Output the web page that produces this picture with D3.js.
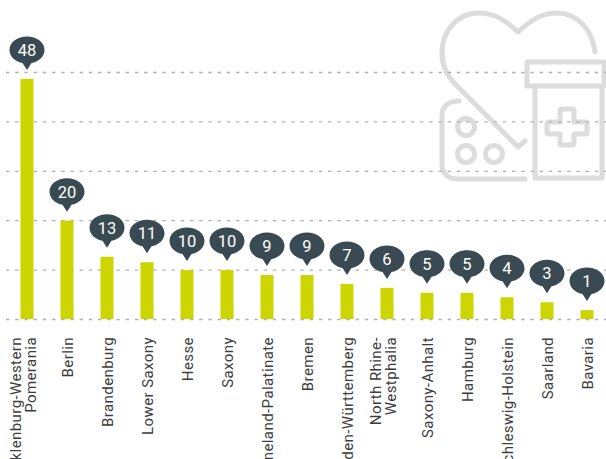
<!DOCTYPE html>
<html>
<head>
<meta charset="utf-8">
<script src="https://d3js.org/d3.v7.min.js"></script>
<style>
  html, body { margin: 0; padding: 0; background: #fff; overflow: hidden; }
  text { font-family: Roboto, sans-serif; }
</style>
</head>
<body>
<div id="chart"></div>
<script>
// state names, split where the label wraps
const states = ["Mecklenburg-Western|Pomerania", "Berlin", "Brandenburg", "Lower Saxony", "Hesse", "Saxony",
  "Rhineland-Palatinate", "Bremen", "Baden-Württemberg", "North Rhine-|Westphalia", "Saxony-Anhalt",
  "Hamburg", "Schleswig-Holstein", "Saarland", "Bavaria"];
// bar heights
const values = [48.6, 19.9, 12.6, 11.5, 9.9, 9.9, 8.9, 8.9, 7.1, 6.3, 5.3, 5.3, 4.4, 3.4, 1.8];
// numbers printed in the bubbles
const labels = [48, 20, 13, 11, 10, 10, 9, 9, 7, 6, 5, 5, 4, 3, 1];
const gridTicks = [0, 10, 20, 30, 40, 50];

const width = 606, height = 459;

const svg = d3.select("#chart").append("svg")
  .attr("width", width)
  .attr("height", height)
  .style("display", "block");

const x = d3.scaleBand().domain(states).range([7, 607]);
const y = d3.scaleLinear().domain([0, 50]).range([319, 72]);
const barWidth = 13;

// background icon
const icon = svg.append("g")
  .attr("fill", "none")
  .attr("stroke", "#dcdcdc")
  .attr("stroke-width", 5)
  .attr("stroke-linecap", "round")
  .attr("stroke-linejoin", "round");

icon.append("path").attr("d", "M595,52 C592,28 576,13 557,13 C541,13 530,21 518,32 C506,21 495,13 479,13 C457,13 442,31 442,53 C442,66 447,76 456,85 L518,147 L525,141");
icon.append("path").attr("d", "M459,101 C448,101 442,107 442,116 L442,165 C442,174 449,179 457,179 L525,179");
icon.append("circle").attr("cx", 466).attr("cy", 127).attr("r", 8.5);
icon.append("circle").attr("cx", 466).attr("cy", 154).attr("r", 8.5);
icon.append("circle").attr("cx", 494).attr("cy", 154).attr("r", 8.5);
icon.append("rect").attr("x", 527).attr("y", 62).attr("width", 77).attr("height", 24);
icon.append("path").attr("d", "M535,87 L535,178 L602,178 L602,87");
icon.append("path").attr("d", "M562,109 L572,109 Q574,109 574,111 L574,122 L585,122 Q587,122 587,124 L587,132 Q587,134 585,134 L574,134 L574,143 Q574,145 572,145 L562,145 Q560,145 560,143 L560,134 L549,134 Q547,134 547,132 L547,124 Q547,122 549,122 L560,122 L560,111 Q560,109 562,109 Z");

// dotted grid lines
const grid = svg.append("g")
  .attr("transform", "translate(6,0)")
  .call(d3.axisRight(y).tickValues(gridTicks).tickSize(600).tickFormat(""));
grid.select(".domain").remove();
grid.selectAll("line")
  .attr("stroke", "#b0b0b0")
  .attr("stroke-width", 1.3)
  .attr("stroke-dasharray", "3.4 5.8");

// bars
svg.append("g").selectAll("rect")
  .data(states)
  .join("rect")
  .attr("x", d => x(d) + x.bandwidth() / 2 - barWidth / 2)
  .attr("y", (d, i) => y(values[i]))
  .attr("width", barWidth)
  .attr("height", (d, i) => y(0) - y(values[i]))
  .attr("fill", "#ccd500");

// bubbles over the bars
const bubble = svg.append("g").selectAll("g")
  .data(states)
  .join("g")
  .attr("transform", (d, i) => `translate(${x(d) + x.bandwidth() / 2},${y(values[i]) - 29})`);

bubble.append("path")
  .attr("d", "M-17.5,0 C-17.5,-8 -9.5,-13.5 0,-13.5 C9.5,-13.5 17.5,-8 17.5,0 C17.5,7 11,12 4.5,13 L0,20 L-4.5,13 C-11,12 -17.5,7 -17.5,0 Z")
  .attr("fill", "#3a4a52");

bubble.append("text")
  .attr("text-anchor", "middle")
  .attr("y", 6)
  .attr("fill", "#fff")
  .attr("font-size", 16.5)
  .text((d, i) => labels[i]);

// rotated state labels, cut off by the bottom of the picture
const tick = svg.append("g").selectAll("text")
  .data(states)
  .join("text")
  .attr("transform", d => {
    const lines = d.split("|").length;
    const cx = x(d) + x.bandwidth() / 2 + (lines > 1 ? -6.5 : 6);
    return `translate(${cx},337) rotate(-90)`;
  })
  .attr("text-anchor", "end")
  .attr("font-size", 15)
  .attr("letter-spacing", 0.42)
  .attr("fill", "#3c3c3c");

tick.selectAll("tspan")
  .data(d => d.split("|"))
  .join("tspan")
  .attr("x", 0)
  .attr("dy", (d, i) => i ? 15 : 0)
  .text(d => d);
</script>
</body>
</html>
